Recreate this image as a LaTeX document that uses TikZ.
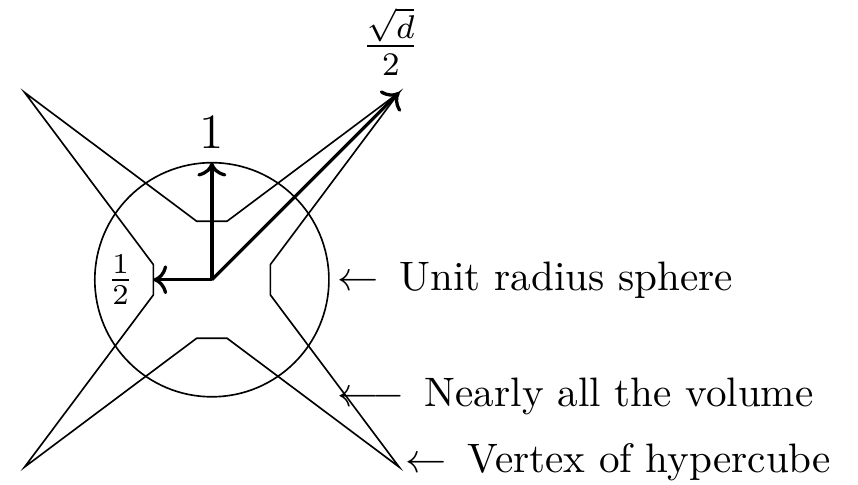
\documentclass[tikz,border=0pt]{standalone}
\usepackage{amsmath,amssymb}
\usepackage{tikz}
\usetikzlibrary{arrows.meta,positioning,calc}

\begin{document}
\begin{tikzpicture}[x=1cm,y=1cm,
    radius/.style={thick,->},
    note/.style={anchor=west,inner sep=0pt}]
  \useasboundingbox (-1.81,-1.75) rectangle (5.52,2.39);
  \coordinate (o) at (0,0);
  \coordinate (top) at (0,1);
  \coordinate (half) at (-0.5,0);
  \coordinate (vtx) at (1.6,1.6);
  \draw (o) circle (1);
  \draw (-1.6,1.6) -- (-0.13,0.5) -- (0.13,0.5) -- (1.6,1.6)
    -- (0.5,0.13) -- (0.5,-0.13) -- (1.6,-1.6)
    -- (0.13,-0.5) -- (-0.13,-0.5) -- (-1.6,-1.6)
    -- (-0.5,-0.13) -- (-0.5,0.13) -- cycle;
  \draw[radius] (o) -- (top);
  \draw[radius] (o) -- (half);
  \draw[radius] (o) -- (vtx);
  \node[above=0pt of top] (one) {\large $1$};
  \node (halflbl) at (-0.78,0) {$\frac{1}{2}$};
  \node[above=4pt of vtx,xshift=-2pt,inner sep=0pt] (diag) {\large $\frac{\sqrt{d}}{2}$};
  \node[note] (sphere) at (1.07,0) {$\leftarrow$\, Unit radius sphere};
  \node[note] (volume) at (1.07,-1.0) {$\longleftarrow$\, Nearly all the volume};
  \node[note] (vertex) at (1.65,-1.56) {$\leftarrow$\, Vertex of hypercube};
\end{tikzpicture}
\end{document}
